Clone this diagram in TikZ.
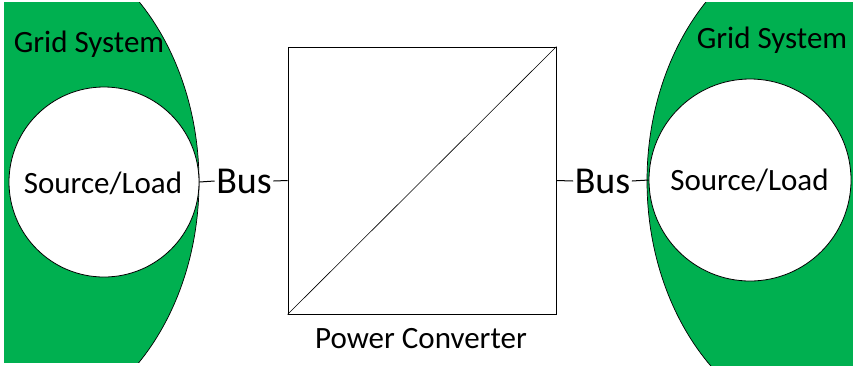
\documentclass[tikz,border=0pt]{standalone}
\usepackage{fontspec}
\setmainfont{Carlito}
\definecolor{gridgreen}{HTML}{00B050}
\begin{document}
\begin{tikzpicture}[x=1pt,y=-1pt,
  lbl/.style={inner sep=0pt,anchor=base,font=\fontsize{31}{36}\selectfont},
  buslbl/.style={inner sep=1.5pt,font=\fontsize{38}{44}\selectfont},
  srcload/.style={circle,draw=black,fill=white,line width=0.8pt,inner sep=0pt},
  conv/.style={draw=black,fill=white,line width=0.8pt,inner sep=0pt,minimum width=268pt,minimum height=267pt},
  wire/.style={draw=black,line width=1pt}]
\useasboundingbox (0,0) rectangle (853,365);
% left grid system
\begin{scope}
  \clip (4,2) rectangle (400,362);
  \filldraw[fill=gridgreen,draw=black,line width=0.7pt] (4,182) ellipse (195 and 250);
\end{scope}
% right grid system
\begin{scope}
  \clip (400,2) rectangle (853,365);
  \filldraw[fill=gridgreen,draw=black,line width=0.7pt] (842,181) ellipse (195 and 250);
\end{scope}
\node[lbl] (lgrid) at (89,52) {Grid System};
\node[lbl] (rgrid) at (772,48) {Grid System};
% source/load circles
\node[srcload,minimum size=190pt] (lsrc) at (104,182) {};
\node[srcload,minimum size=202pt] (rsrc) at (750,180) {};
\node[lbl] at (103,193) {Source/Load};
\node[lbl] at (749.5,190) {Source/Load};
% converter
\node[conv] (box) at (422,180.5) {};
\draw[line width=0.6pt] (box.south west) -- (box.north east);
\node[lbl] (pc) at (421,348) {Power Converter};
% buses
\node[buslbl] (lbus) at (244,181) {Bus};
\node[buslbl] (rbus) at (602.5,181) {Bus};
\draw[wire] (lsrc.east) -- (lbus.west);
\draw[wire] (lbus.east) -- (box.west);
\draw[wire] (box.east) -- (rbus.west);
\draw[wire] (rbus.east) -- (rsrc.west);
\end{tikzpicture}
\end{document}
